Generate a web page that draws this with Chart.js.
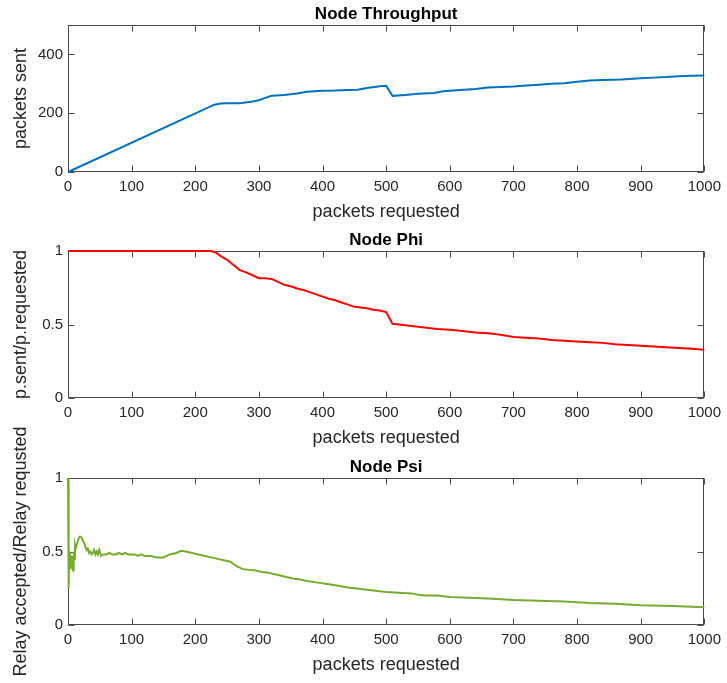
<!DOCTYPE html>
<html>
<head>
<meta charset="utf-8">
<title>Node metrics</title>
<script src="https://cdn.jsdelivr.net/npm/chart.js@4.4.1/dist/chart.umd.min.js"></script>
<style>
  body { margin: 0; background: #fff; }
  canvas { position: absolute; left: 0; }
</style>
</head>
<body>
<canvas id="throughput" width="727" height="227" style="top:0px"></canvas>
<canvas id="phi" width="727" height="227" style="top:226px"></canvas>
<canvas id="psi" width="727" height="270" style="top:413px"></canvas>
<script>
// packets sent vs packets requested
const tpRequested = [0, 230, 240, 250, 270, 290, 300, 310, 320, 340, 360, 375, 400, 420, 440, 455, 470, 490, 500, 510,
  530, 550, 575, 590, 610, 640, 660, 680, 700, 720, 740, 760, 780, 800, 820, 840, 870, 900, 920, 940, 960, 980, 1000];
const tpSent = [0, 229, 233, 234, 234, 240, 244, 252, 259, 262, 267, 273, 276, 277, 279, 280, 286, 292, 293, 259,
  262, 266, 269, 275, 278, 282, 287, 289, 291, 294, 297, 300, 302, 307, 311, 313, 315, 319, 321, 323, 326, 327, 328];

// sent / requested ratio
const phiRequested = [0, 225, 232, 240, 250, 260, 270, 280, 290, 300, 310, 320, 330, 340, 350, 360, 370, 380, 390, 400,
  410, 420, 430, 440, 450, 460, 470, 480, 490, 500, 510, 520, 540, 560, 580, 600, 620, 640, 660, 680,
  700, 720, 740, 760, 780, 800, 820, 840, 860, 880, 900, 920, 940, 960, 980, 1000];
const phiValues = [1, 1, 0.99, 0.965, 0.94, 0.905, 0.87, 0.855, 0.835, 0.815, 0.815, 0.81, 0.79, 0.77, 0.76, 0.745, 0.735, 0.72, 0.705, 0.69,
  0.675, 0.665, 0.65, 0.635, 0.62, 0.615, 0.61, 0.6, 0.595, 0.585, 0.505, 0.5, 0.49, 0.48, 0.47, 0.465, 0.455, 0.445, 0.44, 0.43,
  0.415, 0.41, 0.405, 0.395, 0.39, 0.385, 0.38, 0.375, 0.365, 0.36, 0.355, 0.35, 0.345, 0.34, 0.335, 0.328];

// relay accepted / relay requested
const psiRequested = [0, 1, 2, 3, 4, 5, 6, 7, 8, 9, 10, 11, 12, 14, 16, 18, 20, 23, 26, 29,
  31, 33, 35, 37, 39, 41, 43, 45, 47, 49, 52, 56, 60, 65, 70, 75, 80, 85, 90, 95,
  100, 105, 110, 115, 120, 130, 140, 150, 160, 170, 178, 185, 195, 205, 215, 225, 235, 245, 255, 265,
  275, 285, 295, 305, 315, 325, 335, 345, 355, 365, 375, 390, 405, 420, 440, 460, 480, 500, 520, 540,
  550, 560, 580, 600, 630, 660, 700, 740, 780, 820, 860, 900, 950, 1000];
const psiValues = [1, 0.25, 0.5, 0.42, 0.38, 0.47, 0.44, 0.4, 0.37, 0.5, 0.45, 0.54, 0.52, 0.55, 0.58, 0.6, 0.6, 0.58, 0.55, 0.51,
  0.52, 0.49, 0.5, 0.48, 0.49, 0.51, 0.48, 0.5, 0.48, 0.51, 0.47, 0.48, 0.48, 0.49, 0.48, 0.48, 0.49, 0.48, 0.49, 0.48,
  0.48, 0.48, 0.47, 0.48, 0.47, 0.47, 0.46, 0.46, 0.48, 0.49, 0.505, 0.5, 0.49, 0.48, 0.47, 0.46, 0.45, 0.44, 0.43, 0.4,
  0.38, 0.375, 0.37, 0.36, 0.355, 0.345, 0.335, 0.325, 0.315, 0.31, 0.3, 0.29, 0.28, 0.27, 0.255, 0.245, 0.235, 0.225, 0.22, 0.215,
  0.205, 0.2, 0.2, 0.19, 0.185, 0.18, 0.17, 0.165, 0.16, 0.15, 0.145, 0.135, 0.13, 0.12];

const xTicks = [0, 100, 200, 300, 400, 500, 600, 700, 800, 900, 1000];
const tpTicks = [0, 200, 400];
const ratioTicks = [0, 0.5, 1];

Chart.defaults.font.family = "'Liberation Sans', Arial, sans-serif";
Chart.defaults.color = '#262626';

// box round the plot area with ticks pointing inward on all four sides
const axesBox = {
  id: 'axesBox',
  beforeDatasetsDraw(chart) {
    const { ctx, chartArea: a, scales: { x, y } } = chart;
    const L = Math.round(a.left) + 0.5, R = Math.round(a.right) - 0.5;
    const T = Math.round(a.top) + 0.5, B = Math.round(a.bottom) - 0.5;
    ctx.save();
    ctx.strokeStyle = '#4a4a4a';
    ctx.lineWidth = 1;
    ctx.beginPath();
    x.ticks.forEach(t => {
      const px = Math.round(x.getPixelForValue(t.value)) + 0.5;
      ctx.moveTo(px, B); ctx.lineTo(px, B - 6);
      ctx.moveTo(px, T); ctx.lineTo(px, T + 6);
    });
    y.ticks.forEach(t => {
      const py = Math.round(y.getPixelForValue(t.value)) + 0.5;
      ctx.moveTo(L, py); ctx.lineTo(L + 6, py);
      ctx.moveTo(R, py); ctx.lineTo(R - 6, py);
    });
    ctx.stroke();
    ctx.strokeRect(L, T, R - L, B - T);
    ctx.restore();
  }
};

function panel(id, xs, ys, color, title, yLabel, yTicks, yMax, padTop, padBottom) {
  return new Chart(document.getElementById(id), {
    type: 'line',
    data: {
      datasets: [{
        data: xs.map((v, i) => ({ x: v, y: ys[i] })),
        borderColor: color,
        borderWidth: 2,
        pointRadius: 0,
        tension: 0,
        fill: false,
        clip: 3
      }]
    },
    options: {
      responsive: false,
      animation: false,
      events: [],
      layout: { padding: { left: 0, right: 20, top: padTop, bottom: padBottom } },
      plugins: {
        legend: { display: false },
        tooltip: { enabled: false },
        title: {
          display: true,
          fullSize: false,
          text: title,
          color: '#000',
          font: { size: 17, weight: 'bold', lineHeight: 1 },
          padding: { top: 6, bottom: 2 }
        }
      },
      scales: {
        x: {
          type: 'linear',
          min: 0,
          max: 1000,
          afterBuildTicks: s => { s.ticks = xTicks.map(v => ({ value: v })); },
          afterFit: s => { s.height = 55; },
          grid: { display: false, drawTicks: false },
          border: { display: false },
          ticks: { font: { size: 15 }, padding: 6, maxRotation: 0, autoSkip: false, callback: v => String(v) },
          title: { display: true, text: 'packets requested', font: { size: 18 }, padding: { top: 0, bottom: 4 } }
        },
        y: {
          type: 'linear',
          min: 0,
          max: yMax,
          afterBuildTicks: s => { s.ticks = yTicks.map(v => ({ value: v })); },
          afterFit: s => { s.width = 68; },
          grid: { display: false, drawTicks: false },
          border: { display: false },
          ticks: { font: { size: 15 }, padding: 5, callback: v => String(v) },
          title: { display: true, text: yLabel, font: { size: 18 }, padding: { top: 10, bottom: 0 } }
        }
      }
    },
    plugins: [axesBox]
  });
}

panel('throughput', tpRequested, tpSent, '#0072BD', 'Node Throughput', 'packets sent', tpTicks, 500, 0, 0);
panel('phi', phiRequested, phiValues, '#FF0000', 'Node Phi', 'p.sent/p.requested', ratioTicks, 1, 0, 0);
panel('psi', psiRequested, psiValues, '#77AC30', 'Node Psi', 'Relay accepted/Relay requsted', ratioTicks, 1, 40, 3);
</script>
</body>
</html>
